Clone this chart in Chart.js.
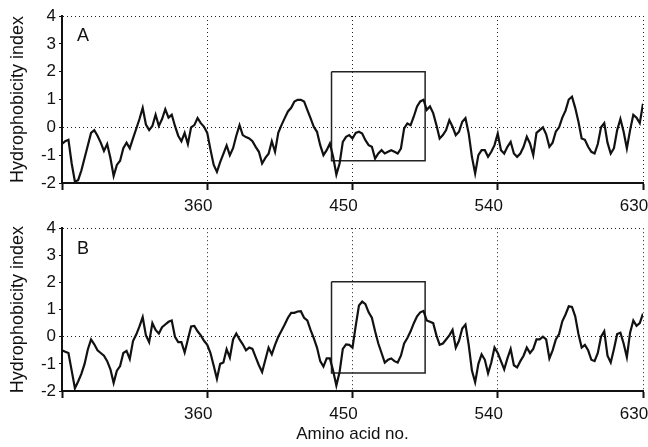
<!DOCTYPE html>
<html>
<head>
<meta charset="utf-8">
<script src="https://cdn.jsdelivr.net/npm/chart.js@4.4.1/dist/chart.umd.min.js"></script>
<style>
  html, body { margin: 0; padding: 0; background: #fff; }
  #wrap { position: relative; width: 648px; height: 447px; }
  #chartA { position: absolute; left: 0; top: 0; }
  #chartB { position: absolute; left: 0; top: 215px; }
</style>
</head>
<body>
<div id="wrap">
  <canvas id="chartA" width="648" height="215"></canvas>
  <canvas id="chartB" width="648" height="232"></canvas>
</div>
<script>
// residue numbering: first residue and spacing of the profile values
var firstResidue = 270;
var residueStep = 2;

// x axis ticks (amino acid no.)
var xTicks = [270, 360, 450, 540, 630];
var yTicks = [-2, -1, 0, 1, 2, 3, 4];

// hydrophobicity profile, panel A (one value every 2 residues, 270..630)
var hydroA = [
    -0.6, -0.5, -0.45, -1.3, -1.95, -1.9, -1.55, -1.1, -0.65, -0.2,
    -0.1, -0.3, -0.55, -0.85, -0.6, -1.1, -1.75, -1.35, -1.2, -0.75,
    -0.55, -0.75, -0.4, -0.05, 0.3, 0.7, 0.1, -0.1, 0.05, 0.45,
    0.05, 0.3, 0.65, 0.35, 0.45, 0.05, -0.3, -0.5, -0.2, -0.6,
    0.0, 0.08, 0.33, 0.15, 0.02, -0.2, -0.8, -1.35, -1.6, -1.25,
    -0.95, -0.65, -1.0, -0.75, -0.3, 0.08, -0.28, -0.35, -0.4, -0.5,
    -0.7, -0.88, -1.3, -1.1, -0.95, -0.5, -0.88, -0.2, 0.08, 0.33,
    0.57, 0.7, 0.93, 0.99, 0.99, 0.93, 0.63, 0.33, 0.02, -0.16,
    -0.64, -1.0, -0.82, -0.58, -1.06, -1.7, -1.3, -0.52, -0.34, -0.28,
    -0.4, -0.2, -0.16, -0.22, -0.46, -0.64, -0.7, -1.12, -0.94, -0.82,
    -0.94, -0.88, -0.82, -0.88, -0.94, -0.76, -0.04, 0.14, 0.08, 0.39,
    0.75, 0.93, 0.99, 0.63, 0.75, 0.51, 0.08, -0.4, -0.28, -0.1,
    0.26, 0.02, -0.28, -0.16, 0.2, 0.33, -0.22, -1.06, -1.66, -1.0,
    -0.82, -0.82, -1.06, -0.88, -0.64, -0.22, -0.82, -0.94, -0.7, -0.52,
    -0.94, -1.06, -0.94, -0.7, -0.34, -0.58, -1.0, -0.2, -0.1, 0.0,
    -0.25, -0.7, -0.55, -0.15, 0.0, 0.35, 0.6, 1.0, 1.1, 0.7,
    0.2, -0.4, -0.45, -0.7, -0.88, -0.94, -0.6, 0.0, 0.15, -0.55,
    -0.94, -0.75, -0.1, 0.3, -0.16, -0.76, -0.1, 0.45, 0.35, 0.15,
    0.85
];

// hydrophobicity profile, panel B
var hydroB = [
    -0.5, -0.55, -0.6, -1.25, -1.9, -1.65, -1.37, -1.0, -0.47, -0.1,
    -0.28, -0.5, -0.6, -0.7, -0.9, -1.2, -1.7, -1.25, -1.08, -0.6,
    -0.52, -0.82, -0.16, 0.08, 0.38, 0.72, 0.05, -0.2, 0.5, 0.25,
    0.12, 0.35, 0.45, 0.55, 0.6, 0.0, -0.2, -0.2, -0.58, -0.1,
    0.38, 0.4, 0.2, 0.05, -0.15, -0.3, -0.6, -1.07, -1.55, -1.0,
    -0.95, -0.46, -0.77, -0.1, 0.12, -0.1, -0.28, -0.5, -0.4, -0.45,
    -0.75, -1.05, -1.3, -0.85, -0.4, -0.65, -0.3, 0.0, 0.22, 0.45,
    0.7, 0.88, 0.88, 0.93, 0.94, 0.7, 0.6, 0.25, -0.05, -0.4,
    -0.9, -1.1, -0.8, -0.8, -1.25, -1.8, -1.3, -0.45, -0.28, -0.3,
    -0.4, 0.4, 1.15, 1.3, 1.2, 0.9, 0.7, 0.2, -0.25, -0.6,
    -0.95, -0.85, -0.8, -0.9, -0.95, -0.7, -0.25, -0.05, 0.2, 0.5,
    0.75, 0.9, 0.95, 0.6, 0.55, 0.5, 0.05, -0.3, -0.25, -0.1,
    0.05, 0.25, -0.4, -0.15, 0.3, 0.45, -0.3, -1.25, -1.68, -1.0,
    -0.65, -0.85, -1.35, -0.95, -0.4, -0.6, -0.9, -1.2, -0.8, -0.45,
    -1.05, -1.13, -0.9, -0.7, -0.4, -0.6, -0.45, -0.1, -0.1, 0.0,
    -0.1, -0.8, -0.5, -0.1, 0.1, 0.57, 0.82, 1.12, 1.1, 0.75,
    0.1, -0.4, -0.3, -0.5, -0.85, -0.9, -0.6, 0.0, 0.2, -0.7,
    -0.95, -0.45, 0.1, 0.15, -0.25, -0.75, 0.15, 0.6, 0.4, 0.5,
    0.85
];

// boxed region in each panel: residues and index range
var boxResidues = [437, 495];
var boxRangeA = [-1.2, 2.0];
var boxRangeB = [-1.34, 2.03];

var FONT = 'Liberation Sans, Arial, Helvetica, sans-serif';

function toPoints(values) {
    return values.map(function (v, i) {
        return { x: firstResidue + i * residueStep, y: v };
    });
}

function boxPoints(range) {
    return [
        { x: boxResidues[0], y: range[1] },
        { x: boxResidues[1], y: range[1] },
        { x: boxResidues[1], y: range[0] },
        { x: boxResidues[0], y: range[0] },
        { x: boxResidues[0], y: range[1] }
    ];
}

// draws the panel letter in the corner of the plot
var panelLetter = {
    id: 'panelLetter',
    afterDraw: function (chart, args, opts) {
        var ctx = chart.ctx;
        var area = chart.chartArea;
        ctx.save();
        ctx.fillStyle = '#111';
        ctx.font = '18px ' + FONT;
        ctx.textAlign = 'left';
        ctx.textBaseline = 'middle';
        ctx.fillText(opts.text, area.left + 15, area.top + opts.dy);
        ctx.restore();
    }
};

function makeChart(id, values, boxRange, letter, opts) {
    var ctx = document.getElementById(id).getContext('2d');
    return new Chart(ctx, {
        type: 'line',
        data: {
            datasets: [{
                data: toPoints(values),
                borderColor: '#111',
                borderWidth: 2.2,
                pointRadius: 0,
                tension: 0,
                fill: false
            }, {
                data: boxPoints(boxRange),
                borderColor: '#222',
                borderWidth: 1.5,
                pointRadius: 0,
                tension: 0,
                fill: false
            }]
        },
        plugins: [panelLetter],
        options: {
            responsive: false,
            animation: false,
            events: [],
            layout: {
                padding: { left: 0, right: 5, top: opts.padTop, bottom: 0 }
            },
            plugins: {
                legend: { display: false },
                tooltip: { enabled: false },
                panelLetter: { text: letter, dy: opts.letterDy }
            },
            scales: {
                x: {
                    type: 'linear',
                    min: 270,
                    max: 630,
                    afterBuildTicks: function (axis) {
                        axis.ticks = xTicks.map(function (v) { return { value: v }; });
                    },
                    afterFit: function (axis) {
                        axis.height = opts.xHeight;
                        axis.paddingLeft = 0;
                        axis.paddingRight = 0;
                    },
                    ticks: {
                        color: '#111',
                        font: { family: FONT, size: 17 },
                        padding: 6,
                        labelOffset: -9,
                        maxRotation: 0,
                        callback: function (v) { return v === 270 ? '' : v; }
                    },
                    grid: {
                        color: function (c) {
                            return c.tick && c.tick.value === 270 ? 'rgba(0,0,0,0)' : '#222';
                        },
                        lineWidth: 1,
                        drawTicks: true,
                        tickLength: 7,
                        tickColor: '#111',
                        tickWidth: 2
                    },
                    border: { display: true, color: '#111', width: 2, dash: [1, 3] },
                    title: {
                        display: opts.showTitle,
                        text: 'Amino acid no.',
                        color: '#111',
                        font: { family: FONT, size: 17 },
                        padding: { top: 0, bottom: 2 }
                    }
                },
                y: {
                    min: -2,
                    max: 4,
                    afterBuildTicks: function (axis) {
                        axis.ticks = yTicks.map(function (v) { return { value: v }; });
                    },
                    afterFit: function (axis) { axis.width = 62; },
                    ticks: {
                        color: '#111',
                        font: { family: FONT, size: 17 },
                        padding: 3
                    },
                    grid: {
                        color: function (c) {
                            var v = c.tick && c.tick.value;
                            return (v === 0 || v === 4) ? '#222' : 'rgba(0,0,0,0)';
                        },
                        lineWidth: 1,
                        drawTicks: true,
                        tickLength: 3,
                        tickColor: '#111'
                    },
                    border: { display: true, color: '#111', width: 2, dash: [1, 3] },
                    title: {
                        display: true,
                        text: 'Hydrophobicity index',
                        color: '#111',
                        font: { family: FONT, size: 18 },
                        padding: { top: 7, bottom: 0 }
                    }
                }
            }
        }
    });
}

makeChart('chartA', hydroA, boxRangeA, 'A', { padTop: 16, xHeight: 32, showTitle: false, letterDy: 20 });
makeChart('chartB', hydroB, boxRangeB, 'B', { padTop: 12, xHeight: 56, showTitle: true, letterDy: 21 });
</script>
</body>
</html>
